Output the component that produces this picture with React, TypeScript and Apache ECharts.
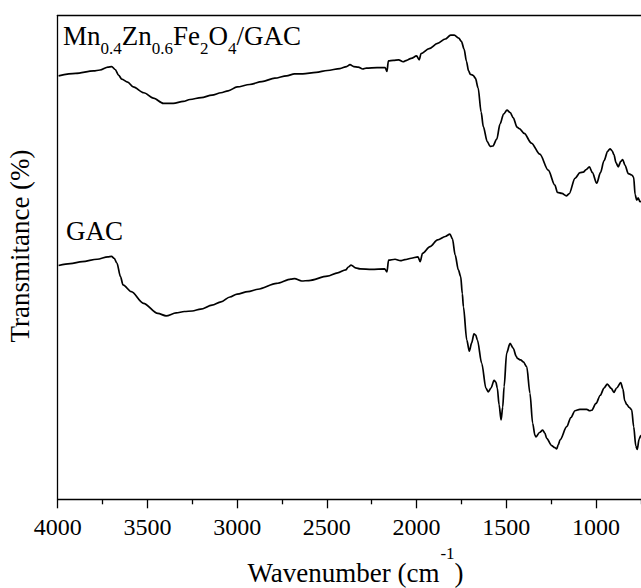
import React, { useEffect, useRef } from "react";
import * as echarts from "echarts";

// ---- data (wavenumber cm^-1, transmittance arbitrary %) ----
const mnWave = [3995, 3900, 3800, 3764, 3720, 3699, 3680, 3660, 3643, 3610, 3579, 3520, 3467, 3411, 3356, 3300, 3263, 3200, 3140, 3090, 3050, 3000, 2930, 2862, 2790, 2725, 2680, 2634, 2560, 2497, 2427, 2390, 2371, 2350, 2325, 2300, 2280, 2220, 2175, 2165, 2157, 2130, 2100, 2075, 2055, 2030, 2000, 1985, 1975, 1930, 1883, 1840, 1810, 1790, 1765, 1750, 1735, 1722, 1710, 1700, 1685, 1672, 1657, 1640, 1628, 1606, 1590, 1575, 1553, 1535, 1515, 1496, 1478, 1461, 1440, 1427, 1400, 1360, 1313, 1266, 1229, 1215, 1190, 1165, 1150, 1117, 1089, 1071, 1055, 1037, 1020, 996, 975, 955, 935, 922, 910, 900, 888, 876, 862, 851, 838, 820, 800, 790, 782, 773, 765, 755, 749];
const mnT = [87.5, 88.0, 88.5, 88.7, 89.3, 89.4, 88.8, 87.6, 86.8, 86.2, 85.2, 84.0, 82.9, 81.8, 81.8, 82.2, 82.6, 83.0, 83.5, 84.0, 84.4, 85.2, 85.7, 86.3, 87.0, 87.5, 87.9, 87.9, 88.2, 88.6, 89.0, 89.4, 89.8, 89.4, 89.3, 88.9, 89.1, 89.2, 89.2, 88.4, 90.6, 90.7, 90.8, 90.4, 90.7, 91.1, 91.6, 90.8, 92.1, 93.1, 94.2, 95.1, 95.9, 95.9, 95.3, 94.6, 93.0, 90.5, 88.5, 87.8, 87.6, 87.0, 85.0, 80.0, 77.0, 73.9, 72.9, 73.0, 74.4, 77.5, 79.6, 80.4, 79.9, 78.8, 76.9, 76.6, 75.6, 73.6, 71.3, 68.0, 64.9, 63.4, 63.2, 62.7, 63.1, 66.3, 67.5, 67.6, 68.1, 68.7, 67.5, 65.3, 67.5, 70.0, 71.9, 72.4, 72.0, 71.2, 69.5, 68.7, 69.8, 70.2, 69.0, 67.3, 67.0, 66.5, 63.0, 61.8, 62.3, 61.5, 61.6];

const gacWave = [3995, 3930, 3863, 3780, 3720, 3700, 3685, 3670, 3650, 3636, 3590, 3522, 3442, 3396, 3340, 3294, 3250, 3203, 3140, 3090, 3040, 3000, 2940, 2884, 2780, 2700, 2680, 2640, 2600, 2497, 2440, 2395, 2380, 2365, 2340, 2315, 2250, 2178, 2165, 2156, 2120, 2090, 2065, 2030, 1992, 1980, 1967, 1925, 1883, 1840, 1814, 1800, 1785, 1767, 1754, 1745, 1739, 1720, 1706, 1693, 1680, 1670, 1661, 1637, 1613, 1600, 1585, 1568, 1558, 1550, 1540, 1529, 1520, 1512, 1498, 1479, 1461, 1445, 1438, 1420, 1405, 1386, 1368, 1353, 1340, 1334, 1315, 1297, 1285, 1275, 1247, 1230, 1219, 1210, 1200, 1163, 1140, 1117, 1090, 1052, 1035, 1024, 1000, 976, 955, 937, 915, 900, 885, 862, 850, 840, 829, 815, 801, 790, 778, 770, 760, 751, 745];
const gacT = [48.3, 48.7, 49.1, 49.6, 50.1, 50.2, 49.8, 48.8, 46.0, 44.3, 42.9, 40.5, 38.4, 37.9, 38.5, 38.8, 38.9, 39.3, 40.1, 40.8, 41.8, 42.4, 42.9, 43.4, 44.6, 45.5, 45.6, 45.1, 45.2, 46.1, 46.8, 47.4, 48.0, 48.4, 47.8, 47.6, 47.5, 47.6, 47.0, 49.4, 49.6, 49.3, 49.5, 49.8, 50.1, 49.1, 50.8, 52.2, 53.6, 54.3, 54.8, 53.8, 50.5, 47.4, 46.0, 42.5, 39.8, 32.9, 30.6, 32.3, 34.2, 33.9, 32.9, 28.1, 22.9, 22.2, 23.0, 24.6, 24.2, 23.0, 19.5, 16.4, 19.0, 23.3, 30.2, 32.2, 31.2, 29.6, 29.1, 28.8, 28.4, 27.4, 21.9, 15.7, 13.2, 12.9, 13.8, 14.3, 13.7, 12.6, 11.1, 10.7, 10.4, 11.3, 12.3, 15.0, 16.9, 18.3, 18.6, 18.6, 18.3, 18.4, 19.8, 21.5, 23.0, 23.8, 22.9, 22.1, 23.0, 24.1, 22.8, 20.4, 19.6, 19.0, 18.5, 15.0, 11.0, 10.3, 12.4, 13.1, 13.3];

const xTickMin = 500;
const xTickMax = 4000;
const xTickStep = 500;
const xFirstLabel = 1000; // lowest tick label visible in the (cropped) figure

const labelTop = [
  { t: "Mn", sub: false },
  { t: "0.4", sub: true },
  { t: "Zn", sub: false },
  { t: "0.6", sub: true },
  { t: "Fe", sub: false },
  { t: "2", sub: true },
  { t: "O", sub: false },
  { t: "4", sub: true },
  { t: "/GAC", sub: false },
];
const labelBottom = "GAC";
const xTitleMain = "Wavenumber (cm";
const xTitleSup = "-1";
const xTitleEnd = ")";
const yTitle = "Transmitance (%)";

const FAMILY = "Liberation Serif";

function measure(text: string, size: number): number {
  const c = document.createElement("canvas").getContext("2d");
  if (!c) return text.length * size * 0.5;
  c.font = `${size}px "${FAMILY}"`;
  return c.measureText(text).width;
}

const CENTRAL = 0.3375;

function txt(text: string, x: number, baseline: number, size: number, align = "left") {
  return {
    type: "text",
    x,
    y: baseline - CENTRAL * size,
    silent: true,
    style: {
      text,
      x: 0,
      y: 0,
      fill: "#000",
      fontSize: size,
      fontFamily: FAMILY,
      align,
      verticalAlign: "middle",
      textAlign: align,
      textVerticalAlign: "middle",
    },
  };
}

const PX_PER_UNIT = 0.17943;

export default function App() {
  const ref = useRef<HTMLDivElement>(null);
  useEffect(() => {
    if (!ref.current) return;
    const chart = echarts.init(ref.current, null, { renderer: "svg" });

    const mainSize = 27;
    const subSize = 17;
    const graphics: any[] = [];

    let cx = 63;
    for (const p of labelTop) {
      const size = p.sub ? subSize : mainSize;
      const base = p.sub ? 54 : 45;
      graphics.push(txt(p.t, cx, base, size));
      cx += measure(p.t, size);
    }
    graphics.push(txt(labelBottom, 66, 240, mainSize));

    const supSize = 17;
    const w1 = measure(xTitleMain, mainSize);
    const w2 = measure(xTitleSup, supSize);
    const w3 = measure(xTitleEnd, mainSize);
    const total = w1 + w2 + w3;
    let tx = 355 - total / 2;
    graphics.push(txt(xTitleMain, tx, 582, mainSize));
    tx += w1 + 1;
    graphics.push(txt(xTitleSup, tx, 559, supSize));
    tx += w2;
    graphics.push(txt(xTitleEnd, tx, 582, mainSize));

    graphics.push({
      type: "text",
      x: 19.5,
      y: 246,
      rotation: Math.PI / 2,
      silent: true,
      style: {
        text: yTitle,
        x: 0,
        y: 0,
        fill: "#000",
        fontSize: mainSize,
        fontFamily: FAMILY,
        align: "center",
        verticalAlign: "middle",
        textAlign: "center",
        textVerticalAlign: "middle",
      },
    });

    const axisColor = "#000";
    chart.setOption({
      animation: false,
      backgroundColor: "#fff",
      grid: {
        left: 57.7,
        top: 15.3,
        width: (xTickMax - xTickMin) * PX_PER_UNIT,
        height: 499.3 - 15.3,
        containLabel: false,
        outerBoundsMode: "none",
      },
      xAxis: [
        {
          type: "value",
          inverse: true,
          min: xTickMin,
          max: xTickMax,
          interval: xTickStep,
          axisLine: { show: true, onZero: false, lineStyle: { color: axisColor, width: 1.3 } },
          axisTick: { show: true, inside: false, length: 9, lineStyle: { color: axisColor, width: 1.3 } },
          minorTick: { show: true, splitNumber: 2, length: 5, lineStyle: { color: axisColor, width: 1.3 } },
          axisLabel: {
            show: true,
            color: "#000",
            fontSize: 24,
            fontFamily: FAMILY,
            margin: 16,
            formatter: (v: number) => (v < xFirstLabel ? "" : String(v)),
          },
          splitLine: { show: false },
          minorSplitLine: { show: false },
        },
        {
          type: "value",
          position: "top",
          inverse: true,
          min: xTickMin,
          max: xTickMax,
          interval: xTickStep,
          axisLine: { show: true, onZero: false, lineStyle: { color: axisColor, width: 1.3 } },
          axisTick: { show: false },
          axisLabel: { show: false },
          splitLine: { show: false },
        },
      ],
      yAxis: {
        type: "value",
        min: 0,
        max: 100,
        axisLine: { show: true, onZero: false, lineStyle: { color: axisColor, width: 1.3 } },
        axisTick: { show: false },
        axisLabel: { show: false },
        splitLine: { show: false },
      },
      graphic: graphics,
      series: [
        {
          type: "line",
          data: mnWave.map((w, i) => [w, mnT[i]]),
          showSymbol: false,
          smooth: 0.3,
          smoothMonotone: "x",
          lineStyle: { color: "#000", width: 1.7 },
          silent: true,
        },
        {
          type: "line",
          data: gacWave.map((w, i) => [w, gacT[i]]),
          showSymbol: false,
          smooth: 0.3,
          smoothMonotone: "x",
          lineStyle: { color: "#000", width: 1.7 },
          silent: true,
        },
      ],
    });
    return () => chart.dispose();
  }, []);
  return (
    <div
      ref={ref}
      style={{ position: "fixed", left: 0, top: 0, width: 641, height: 588, background: "#fff" }}
    />
  );
}
